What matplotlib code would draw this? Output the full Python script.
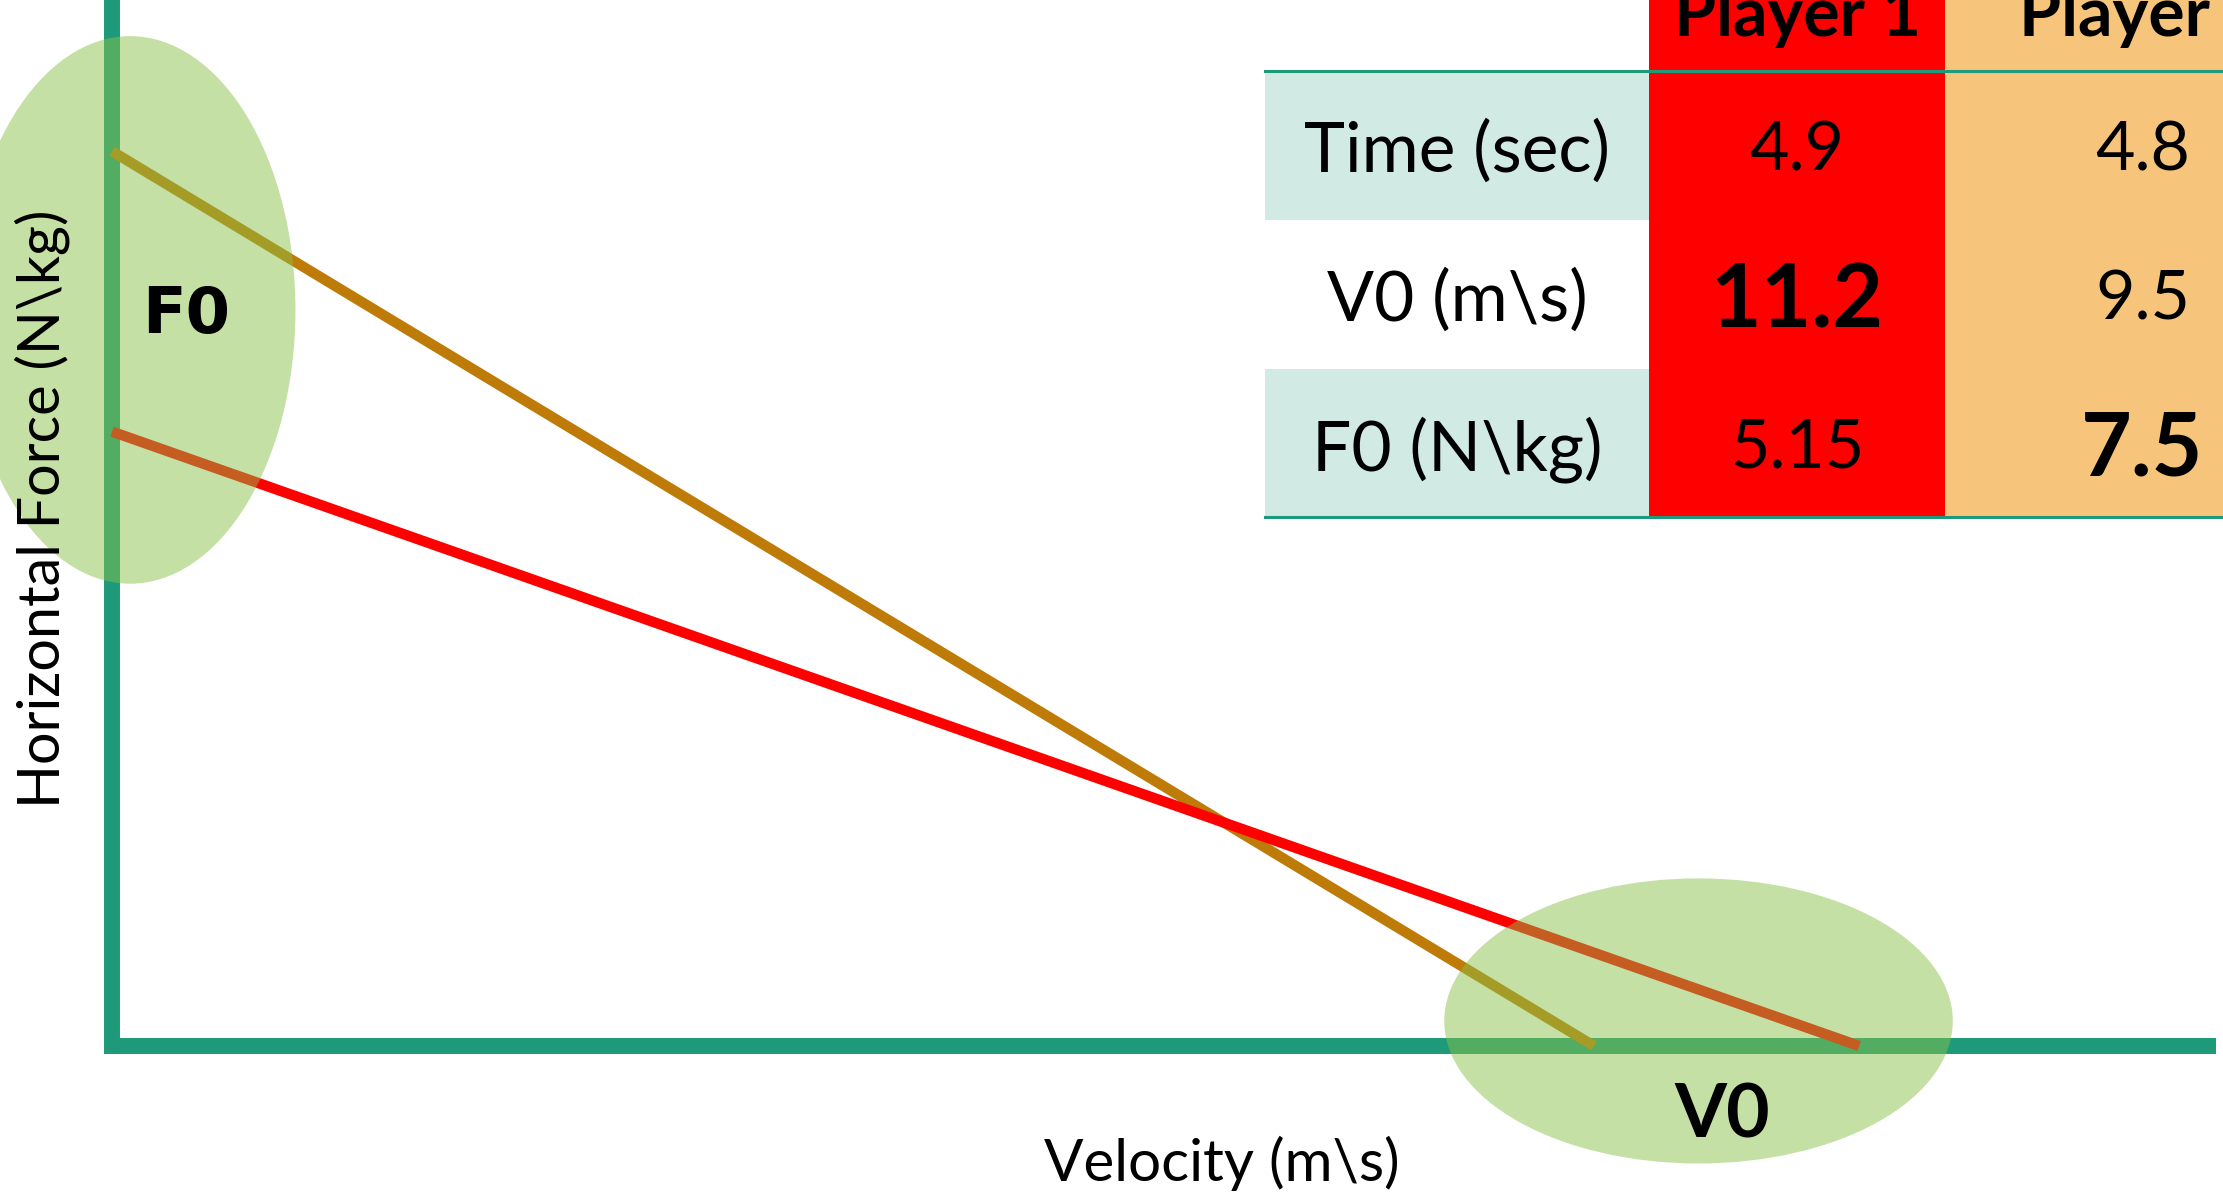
import matplotlib
matplotlib.use("Agg")
import matplotlib.pyplot as plt
from matplotlib.patches import Ellipse, Rectangle

# data: force-velocity profile of two players
players = ["Player 1", "Player 2"]
v0 = [11.2, 9.5]          # m\s
f0 = [5.15, 7.5]          # N\kg
times = [4.9, 4.8]        # sec
row_labels = ["Time (sec)", "V0 (m\\s)", "F0 (N\\kg)"]
cells = [["4.9", "4.8"], ["11.2", "9.5"], ["5.15", "7.5"]]
bold_cells = [(1, 0), (2, 1)]

line_colors = ["#FF0000", "#BF7B08"]
col_colors = ["#FF0000", "#F6C47B"]
teal = "#1E9A7A"
label_bg = "#D1EAE3"
blob = (0.537, 0.753, 0.278, 0.49)

W, H = 2223, 1196
fig = plt.figure(figsize=(W / 100, H / 100), dpi=100)
plt.rcParams['font.family'] = ['Lato', 'DejaVu Sans']

# main axes: origin sits at pixel (112, 1046)
ox, oy = 112, 1046
sx, sy = 156.0, 119.3
ax = fig.add_axes([0, 0, 1, 1])
ax.set_xlim(-ox / sx, (W - ox) / sx)
ax.set_ylim(-(H - oy) / sy, oy / sy)
ax.axis('off')

xmax = (2216 - ox) / sx
ytop = oy / sy
ax.plot([0, xmax], [0, 0], color=teal, lw=11.5, solid_capstyle='butt', zorder=2)
ax.plot([0, 0], [-8 / sy, ytop], color=teal, lw=11.5, solid_capstyle='butt', zorder=2)

# player 2 first so red sits under at crossing like the ref
for i in [1, 0]:
    ax.plot([0, v0[i]], [f0[i], 0], color=line_colors[i], lw=7.5,
            solid_capstyle='butt', zorder=3)

ax.add_patch(Ellipse((0.116, 6.17), 2.12, 4.59, color=blob, lw=0, zorder=5))
ax.add_patch(Ellipse((10.17, 0.21), 3.26, 2.39, color=blob, lw=0, zorder=5))

ax.text(0.476, 6.13, "F0", family='DejaVu Sans', weight='bold', fontsize=46,
        ha='center', va='center', zorder=6)
ax.text(10.32, -0.586, "V0", weight='bold', fontsize=54,
        ha='center', va='center', zorder=6)

fig.text(42 / W, 1 - 509 / H, "Horizontal Force (N\\kg)", rotation=90,
         fontsize=41.5, ha='center', va='center', zorder=1)
fig.text(1222 / W, 1 - 1163 / H, "Velocity (m\\s)", fontsize=42,
         ha='center', va='center')

# table overlay in pixel units
tax = fig.add_axes([0, 0, 1, 1])
tax.set_xlim(0, W)
tax.set_ylim(H, 0)
tax.axis('off')
tax.patch.set_alpha(0)

col_x = [1265, 1649, 1945, 2340]
row_y = [-78, 71, 220, 369, 517]

for j in range(2):
    tax.add_patch(Rectangle((col_x[j + 1], row_y[0]), col_x[j + 2] - col_x[j + 1],
                            row_y[-1] - row_y[0], color=col_colors[j], lw=0))
for r in range(3):
    if r != 1:
        tax.add_patch(Rectangle((col_x[0], row_y[r + 1]), col_x[1] - col_x[0],
                                row_y[r + 2] - row_y[r + 1], color=label_bg, lw=0))
for yy in [row_y[1], row_y[-1]]:
    tax.plot([col_x[0], W], [yy, yy], color=teal, lw=2.2, zorder=3)

for j, name in enumerate(players):
    cx = (col_x[j + 1] + col_x[j + 2]) / 2
    tax.text(cx, 36, name, fontsize=49, weight='bold', ha='center', va='baseline')

for r in range(3):
    cy = (row_y[r + 1] + row_y[r + 2]) / 2
    tax.text((col_x[0] + col_x[1]) / 2, cy, row_labels[r], fontsize=50,
             ha='center', va='center_baseline')
    for j in range(2):
        cx = (col_x[j + 1] + col_x[j + 2]) / 2
        b = (r, j) in bold_cells
        tax.text(cx, cy, cells[r][j], fontsize=63 if b else 49,
                 weight='bold' if b else 'normal', ha='center', va='center_baseline')

fig.savefig("out.png", dpi=100)
